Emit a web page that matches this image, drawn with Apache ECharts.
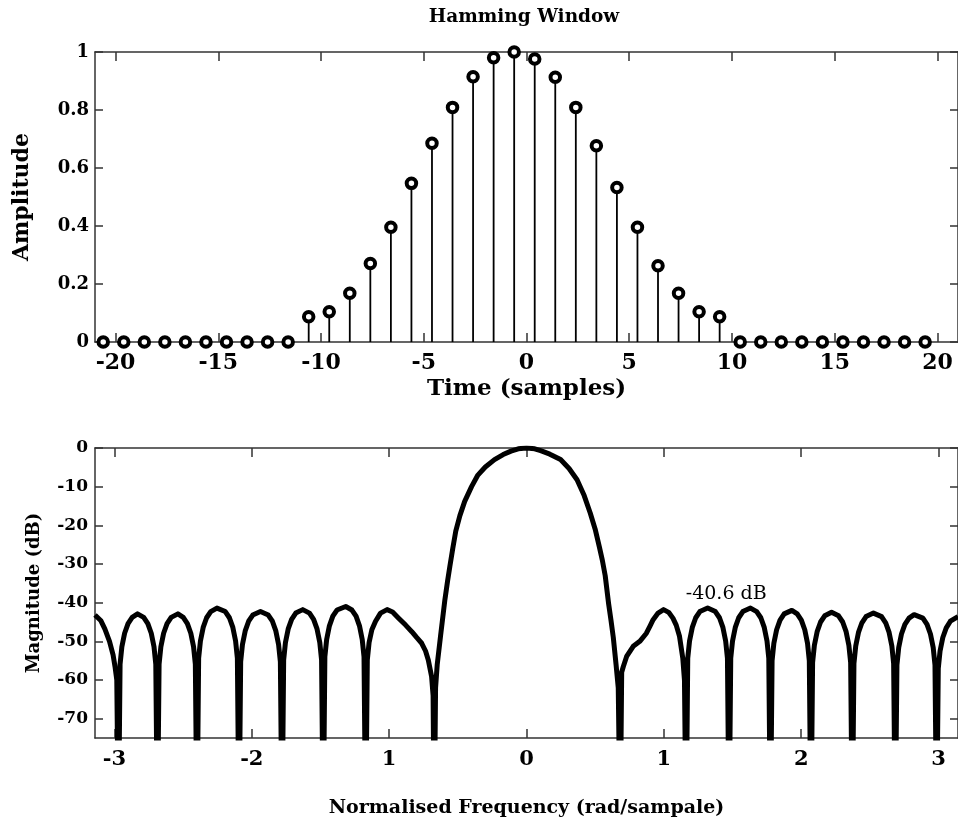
<!DOCTYPE html>
<html>
<head>
<meta charset="utf-8">
<script src="https://cdn.jsdelivr.net/npm/echarts@6/dist/echarts.min.js"></script>
<style>
html,body{margin:0;padding:0;background:#fff;}
#chart{width:958px;height:821px;}
</style>
</head>
<body>
<div id="chart"></div>
<script>
// ---------- data ----------
var timeSamples = [-20.6,-19.6,-18.6,-17.6,-16.6,-15.6,-14.6,-13.6,-12.6,-11.6,
  -10.6,-9.6,-8.6,-7.6,-6.6,-5.6,-4.6,-3.6,-2.6,-1.6,-0.6,0.4,1.4,2.4,3.4,4.4,5.4,6.4,7.4,8.4,9.4,
  10.4,11.4,12.4,13.4,14.4,15.4,16.4,17.4,18.4,19.4];
var amplitude = [0,0,0,0,0,0,0,0,0,0,
  0.087,0.104,0.168,0.271,0.396,0.547,0.685,0.809,0.915,0.98,1.0,0.976,0.913,0.809,0.677,0.533,0.396,0.263,0.168,0.104,0.087,
  0,0,0,0,0,0,0,0,0,0];
var timeTicks = [-20,-15,-10,-5,0,5,10,15,20];
var ampTicks = [0,0.2,0.4,0.6,0.8,1];

var freq = [
-3.1416,-3.10,-3.07,-3.036,-3.01,-2.996,-2.983,-2.971,
-2.959,-2.946,-2.926,-2.901,-2.871,-2.832,-2.787,-2.757,-2.732,-2.712,-2.699,-2.687,
-2.675,-2.662,-2.642,-2.617,-2.587,-2.538,-2.499,-2.469,-2.444,-2.424,-2.411,-2.399,
-2.387,-2.374,-2.354,-2.329,-2.299,-2.254,-2.193,-2.163,-2.138,-2.118,-2.105,-2.093,
-2.081,-2.068,-2.048,-2.023,-1.993,-1.937,-1.880,-1.850,-1.825,-1.805,-1.792,-1.780,
-1.768,-1.755,-1.735,-1.710,-1.680,-1.629,-1.580,-1.550,-1.525,-1.505,-1.492,-1.480,
-1.468,-1.455,-1.435,-1.410,-1.380,-1.316,-1.271,-1.241,-1.216,-1.196,-1.183,-1.171,
-1.159,-1.146,-1.126,-1.099,-1.063,-1.015,-0.975,-0.931,-0.880,-0.835,-0.800,-0.763,-0.735,-0.715,-0.691,-0.680,-0.672,
-0.662,-0.650,-0.626,-0.594,-0.575,-0.558,-0.537,-0.515,-0.485,-0.450,-0.400,-0.354,-0.300,-0.233,-0.170,-0.113,-0.060,0,
0.060,0.103,0.170,0.248,0.310,0.368,0.420,0.464,0.500,0.530,0.552,0.573,0.598,0.615,0.632,0.652,0.668,0.682,
0.693,0.705,0.729,0.777,0.825,0.873,0.900,0.922,0.958,0.998,1.035,1.066,1.090,1.114,1.138,1.150,1.162,
1.174,1.187,1.207,1.232,1.262,1.319,1.375,1.405,1.430,1.450,1.463,1.475,
1.487,1.500,1.520,1.545,1.575,1.631,1.676,1.706,1.731,1.751,1.764,1.776,
1.788,1.801,1.821,1.846,1.876,1.932,1.971,2.001,2.026,2.046,2.059,2.071,
2.083,2.096,2.116,2.141,2.171,2.221,2.272,2.302,2.327,2.347,2.360,2.372,
2.384,2.397,2.417,2.442,2.472,2.526,2.585,2.615,2.640,2.660,2.673,2.685,
2.697,2.710,2.730,2.755,2.785,2.822,2.886,2.916,2.941,2.961,2.974,2.986,
2.998,3.011,3.031,3.056,3.086,3.1416];
var magDb = [
-43.2,-44.6,-46.8,-50.0,-53.5,-56.5,-60,-100,
-55.9,-51.4,-47.9,-45.4,-43.8,-42.9,-43.8,-45.4,-47.9,-51.4,-55.9,-100,
-55.9,-51.4,-47.9,-45.4,-43.8,-42.9,-43.8,-45.4,-47.9,-51.4,-55.9,-100,
-54.4,-49.9,-46.4,-43.9,-42.3,-41.4,-42.3,-43.9,-46.4,-49.9,-54.4,-100,
-55.3,-50.8,-47.3,-44.8,-43.2,-42.3,-43.2,-44.8,-47.3,-50.8,-55.3,-100,
-54.8,-50.3,-46.8,-44.3,-42.7,-41.8,-42.7,-44.3,-46.8,-50.3,-54.8,-100,
-54.0,-49.5,-46.0,-43.5,-41.9,-41.0,-41.9,-43.5,-46.0,-49.5,-54.0,-100,
-54.8,-50.3,-47.0,-44.8,-42.7,-41.8,-42.4,-44.0,-45.8,-47.5,-49.0,-50.5,-52.5,-54.8,-59.1,-64,-100,
-62,-56,-48.7,-39.2,-34.5,-30.6,-26.0,-21.5,-17.5,-13.8,-10.0,-7.0,-4.9,-3.0,-1.7,-0.8,-0.2,0,
-0.2,-0.7,-1.6,-3.0,-5.3,-8.2,-12.3,-16.8,-21.0,-25.5,-29.0,-33.0,-40.3,-44.5,-49.0,-56,-62,-100,
-58,-56.5,-53.9,-51.3,-50.0,-47.9,-46.0,-44.4,-42.7,-41.8,-42.5,-44.0,-45.8,-48.7,-54.4,-60,-100,
-54.4,-49.9,-46.4,-43.9,-42.3,-41.4,-42.3,-43.9,-46.4,-49.9,-54.4,-100,
-54.4,-49.9,-46.4,-43.9,-42.3,-41.4,-42.3,-43.9,-46.4,-49.9,-54.4,-100,
-55.0,-50.5,-47.0,-44.5,-42.9,-42.0,-42.9,-44.5,-47.0,-50.5,-55.0,-100,
-55.5,-51.0,-47.5,-45.0,-43.4,-42.5,-43.4,-45.0,-47.5,-51.0,-55.5,-100,
-55.7,-51.2,-47.7,-45.2,-43.6,-42.7,-43.6,-45.2,-47.7,-51.2,-55.7,-100,
-56.1,-51.6,-48.1,-45.6,-44.0,-43.1,-44.0,-45.6,-48.1,-51.6,-56.1,-100,
-57,-52.5,-49.0,-46.5,-44.8,-43.6];
var freqTicks = [-3,-2,-1,0,1,2,3];
var freqTickLabels = ['-3','-2','1','0','1','2','3'];
var dbTicks = [-70,-60,-50,-40,-30,-20,-10,0];
var sidelobeNote = {text: '-40.6 dB', x: 1.454, y: -37.7};

// ---------- chart ----------
var FONT = "'DejaVu Serif', 'Liberation Serif', serif";
var frame = {show: true, onZero: false, lineStyle: {color: '#333', width: 1.5}};
var tickStyle = {color: '#333', width: 1.5};
function lbl(size, extra) {
  var o = {fontFamily: FONT, fontWeight: 'bold', fontSize: size, color: '#000'};
  for (var k in extra) o[k] = extra[k];
  return o;
}

var stemData = timeSamples.map(function (t, i) { return [t, amplitude[i]]; });
var n = Math.min(freq.length, magDb.length);
var lineData = [];
for (var i = 0; i < n; i++) lineData.push([freq[i], magDb[i]]);

var chart = echarts.init(document.getElementById('chart'), null, {renderer: 'canvas'});
chart.setOption({
  animation: false,
  backgroundColor: '#fff',
  graphic: [{
    type: 'text', x: 524, y: 17,
    style: {text: 'Hamming Window', fontFamily: FONT, fontWeight: 'bold', fontSize: 18.5,
            fill: '#000', textAlign: 'center', textVerticalAlign: 'middle'}
  }],
  grid: [
    {left: 95, top: 52, width: 868, height: 290},
    {left: 95, top: 448, width: 868, height: 290}
  ],
  xAxis: [
    {gridIndex: 0, type: 'value', min: -21, max: 21, position: 'bottom',
     axisLine: frame, splitLine: {show: false},
     axisTick: {inside: true, length: 9, customValues: timeTicks, lineStyle: tickStyle},
     axisLabel: lbl(22, {margin: 10, customValues: timeTicks}),
     name: 'Time (samples)', nameLocation: 'middle', nameGap: 36,
     nameTextStyle: lbl(23)},
    {gridIndex: 0, type: 'value', min: -21, max: 21, position: 'top',
     axisLine: frame, splitLine: {show: false},
     axisTick: {inside: true, length: 9, customValues: timeTicks, lineStyle: tickStyle},
     axisLabel: {show: false}},
    {gridIndex: 1, type: 'value', min: -Math.PI, max: Math.PI, position: 'bottom',
     axisLine: frame, splitLine: {show: false},
     axisTick: {inside: true, length: 9, customValues: freqTicks, lineStyle: tickStyle},
     axisLabel: lbl(21, {margin: 11, customValues: freqTicks,
       formatter: function (v) { return freqTickLabels[freqTicks.indexOf(Math.round(v))]; }}),
     name: 'Normalised Frequency (rad/sampale)', nameLocation: 'middle', nameGap: 61,
     nameTextStyle: lbl(19)},
    {gridIndex: 1, type: 'value', min: -Math.PI, max: Math.PI, position: 'top',
     axisLine: frame, splitLine: {show: false},
     axisTick: {inside: true, length: 9, customValues: freqTicks, lineStyle: tickStyle},
     axisLabel: {show: false}}
  ],
  yAxis: [
    {gridIndex: 0, type: 'value', min: 0, max: 1, position: 'left',
     axisLine: frame, splitLine: {show: false},
     axisTick: {inside: true, length: 8, customValues: ampTicks, lineStyle: tickStyle},
     axisLabel: lbl(18, {margin: 6, customValues: ampTicks}),
     name: 'Amplitude', nameLocation: 'middle', nameGap: 62, nameTextStyle: lbl(22)},
    {gridIndex: 0, type: 'value', min: 0, max: 1, position: 'right',
     axisLine: frame, splitLine: {show: false},
     axisTick: {inside: true, length: 8, customValues: ampTicks, lineStyle: tickStyle},
     axisLabel: {show: false}},
    {gridIndex: 1, type: 'value', min: -75, max: 0, position: 'left',
     axisLine: frame, splitLine: {show: false},
     axisTick: {inside: true, length: 8, customValues: dbTicks, lineStyle: tickStyle},
     axisLabel: lbl(17, {margin: 7, customValues: dbTicks}),
     name: 'Magnitude (dB)', nameLocation: 'middle', nameGap: 52, nameTextStyle: lbl(18)},
    {gridIndex: 1, type: 'value', min: -75, max: 0, position: 'right',
     axisLine: frame, splitLine: {show: false},
     axisTick: {inside: true, length: 8, customValues: dbTicks, lineStyle: tickStyle},
     axisLabel: {show: false}}
  ],
  series: [
    {type: 'custom', xAxisIndex: 0, yAxisIndex: 0, data: stemData, clip: false,
     renderItem: function (params, api) {
       var p0 = api.coord([api.value(0), 0]);
       var p1 = api.coord([api.value(0), api.value(1)]);
       return {type: 'line', shape: {x1: p0[0], y1: p0[1], x2: p1[0], y2: p1[1]},
               style: {stroke: '#000', lineWidth: 1.8}};
     }},
    {type: 'scatter', xAxisIndex: 0, yAxisIndex: 0, data: stemData, clip: false,
     symbol: 'circle', symbolSize: 9.5,
     itemStyle: {color: '#fff', borderColor: '#000', borderWidth: 4, opacity: 1}},
    {type: 'line', xAxisIndex: 2, yAxisIndex: 2, data: lineData, clip: true,
     showSymbol: false, symbol: 'none', smooth: false,
     lineStyle: {color: '#000', width: 5, join: 'round'},
     markPoint: {
       symbol: 'circle', symbolSize: 1, itemStyle: {color: 'rgba(0,0,0,0)'},
       label: {show: true, position: 'inside', formatter: sidelobeNote.text,
               fontFamily: FONT, fontSize: 19, color: '#000'},
       data: [{coord: [sidelobeNote.x, sidelobeNote.y]}]
     }}
  ]
});
</script>
</body>
</html>
